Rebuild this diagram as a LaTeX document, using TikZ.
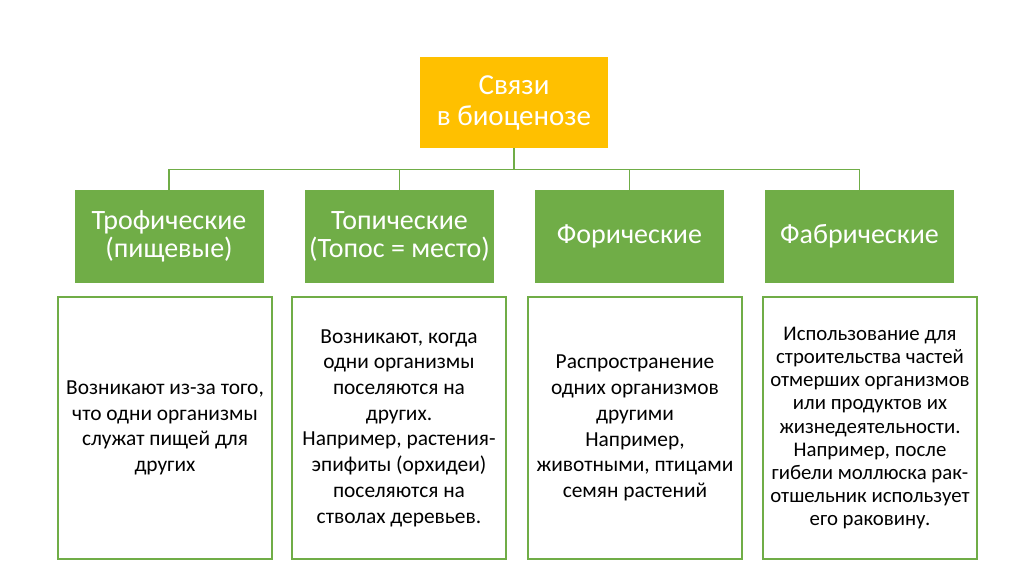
\documentclass[tikz,border=0pt]{standalone}
\usepackage{fontspec}
\setmainfont{Carlito}
\definecolor{gold}{HTML}{FFC000}
\definecolor{leaf}{HTML}{70AD47}
\begin{document}
\begin{tikzpicture}[x=1pt,y=-1pt,
  topbox/.style={fill=gold,draw=none,minimum width=188pt,minimum height=91pt,
    text=white,align=center,font=\fontsize{29}{31}\selectfont},
  catbox/.style={fill=leaf,draw=none,minimum width=189pt,minimum height=93pt,
    text=white,align=center,font=\fontsize{28}{28}\selectfont},
  descbox/.style={fill=white,draw=leaf,line width=1.3pt,minimum width=214pt,minimum height=262pt,
    text=black,align=center,font=\fontsize{21.4}{25.7}\selectfont},
  smalldesc/.style={font=\fontsize{20.8}{23.1}\selectfont},
  conn/.style={draw=leaf,line width=1.4pt}]
\useasboundingbox (0,0) rectangle (1024,574);
\node[topbox] (top) at (514,102.5) {Связи\\в биоценозе};
\node[catbox] (g1) at (169,236.5) {Трофические\\(пищевые)};
\node[catbox] (g2) at (399.5,236.5) {Топические\\(Топос = место)};
\node[catbox] (g3) at (629.5,236.5) {Форические};
\node[catbox] (g4) at (859.5,236.5) {Фабрические};
\foreach \g in {g1,g2,g3,g4}{
  \draw[conn] (top.south) -- ++(0,21) -| (\g.north);
}
\node[descbox] (d1) at (165,428) {Возникают из-за того,\\что одни организмы\\служат пищей для\\других};
\node[descbox] (d2) at (399,428) {Возникают, когда\\одни организмы\\поселяются на\\других.\\Например, растения-\\эпифиты (орхидеи)\\поселяются на\\стволах деревьев.};
\node[descbox] (d3) at (635,428) {Распространение\\одних организмов\\другими\\Например,\\животными, птицами\\семян растений};
\node[descbox,smalldesc] (d4) at (870,428) {Использование для\\строительства частей\\отмерших организмов\\или продуктов их\\жизнедеятельности.\\Например, после\\гибели моллюска рак-\\отшельник использует\\его раковину.};
\end{tikzpicture}
\end{document}
